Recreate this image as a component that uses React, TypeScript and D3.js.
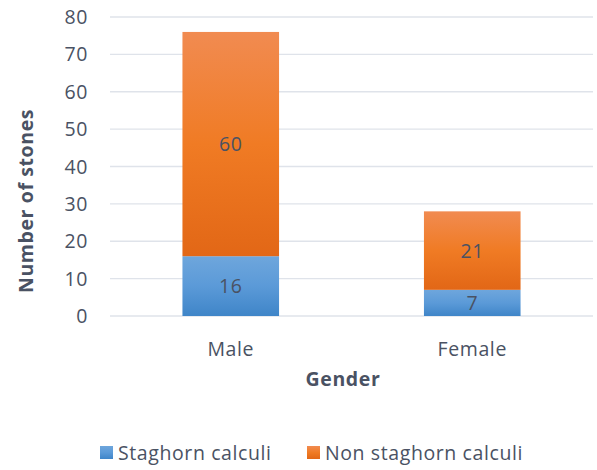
import React from 'react';
import * as d3 from 'd3';

const categories = ['Male', 'Female'];
const staghorn = [16, 7];
const nonStaghorn = [60, 21];
const seriesNames = ['Staghorn calculi', 'Non staghorn calculi'];
const yTicks = [0, 10, 20, 30, 40, 50, 60, 70, 80];

const W = 597;
const H = 470;
const margin = { left: 110, right: 4, top: 17, bottom: 154 };
const font = "'Open Sans', sans-serif";
const textColor = '#4a5263';
const fs = 19.5;
const ls = 0.6;

export default function App() {
  const x = d3.scaleBand<string>()
    .domain(categories)
    .range([margin.left, W - margin.right])
    .paddingInner(0.6)
    .paddingOuter(0.3);

  const y = d3.scaleLinear().domain([0, 80]).range([H - margin.bottom, margin.top]);

  const rows = categories.map((c, i) => ({ cat: c, staghorn: staghorn[i], non: nonStaghorn[i] }));
  const stack = d3.stack<any>().keys(['staghorn', 'non'])(rows);
  const fills = ['url(#gBlue)', 'url(#gOrange)'];

  const txt = { fontFamily: font, fontSize: fs, fill: textColor, letterSpacing: ls };

  return (
    <svg width={W} height={H} style={{ position: 'absolute', left: 0, top: 0, background: '#fff' }}>
      <defs>
        <linearGradient id="gOrange" x1="0" y1="0" x2="0" y2="1">
          <stop offset="0" stopColor="#f18b51" />
          <stop offset="0.5" stopColor="#f07b24" />
          <stop offset="1" stopColor="#e26716" />
        </linearGradient>
        <linearGradient id="gBlue" x1="0" y1="0" x2="0" y2="1">
          <stop offset="0" stopColor="#6ea6dc" />
          <stop offset="0.5" stopColor="#5b9ad8" />
          <stop offset="1" stopColor="#3f85c8" />
        </linearGradient>
      </defs>

      {yTicks.map(t => (
        <g key={t}>
          <line x1={margin.left} x2={W - margin.right} y1={y(t)} y2={y(t)} stroke="#dfe3ea" strokeWidth={1.3} />
          <text x={88} y={y(t)} dy="0.36em" textAnchor="end" {...txt}>{t}</text>
        </g>
      ))}

      {stack.map((s, si) => (
        <g key={si}>
          {s.map((d, i) => {
            const x0 = x(categories[i])!;
            const bw = x.bandwidth();
            const yTop = y(d[1]);
            const yBot = y(d[0]);
            return (
              <g key={i}>
                <rect x={x0} y={yTop} width={bw} height={yBot - yTop} fill={fills[si]} />
                <text x={x0 + bw / 2} y={(yTop + yBot) / 2} dy="0.36em" textAnchor="middle" {...txt}>{d[1] - d[0]}</text>
              </g>
            );
          })}
        </g>
      ))}

      {categories.map(c => (
        <text key={c} x={x(c)! + x.bandwidth() / 2} y={349} dy="0.36em" textAnchor="middle" {...txt}>{c}</text>
      ))}

      <text x={343} y={379} dy="0.36em" textAnchor="middle" {...txt} fontWeight="bold">Gender</text>
      <text transform="translate(26,201) rotate(-90)" dy="0.36em" textAnchor="middle" {...txt}
        fontWeight="bold">Number of stones</text>

      {seriesNames.map((n, i) => {
        const lx = [100, 307][i];
        return (
          <g key={n}>
            <rect x={lx} y={446} width={13} height={13} fill={fills[i]} />
            <text x={lx + 18} y={453} dy="0.36em" {...txt}>{n}</text>
          </g>
        );
      })}
    </svg>
  );
}
